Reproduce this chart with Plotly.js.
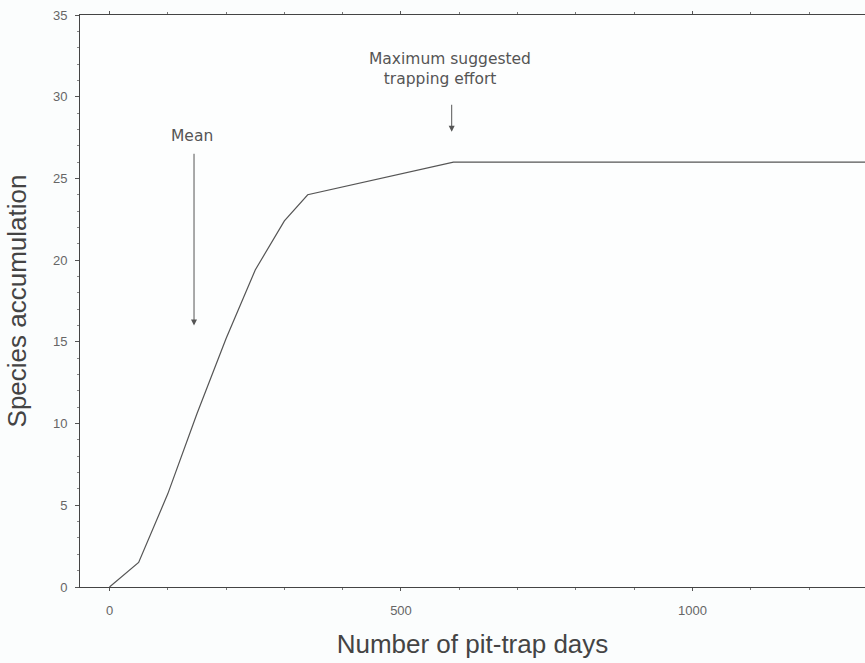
<!DOCTYPE html>
<html>
<head>
<meta charset="utf-8">
<script src="https://cdn.plot.ly/plotly-3.0.1.min.js"></script>
<style>html,body{margin:0;padding:0;background:#fbfdfd;}#chart{width:865px;height:663px;}</style>
</head>
<body>
<div id="chart"></div>
<script>
// Data
const trapDays = [0, 50, 100, 150, 200, 250, 300, 340, 590, 1320];
const speciesAcc = [0, 1.5, 5.7, 10.6, 15.2, 19.4, 22.4, 24.0, 26.0, 26.0];
const xTickVals = [0, 500, 1000];
const yTickVals = [0, 5, 10, 15, 20, 25, 30, 35];

const labelFont = {family: 'DejaVu Sans, Verdana, sans-serif', size: 15.5, color: '#555'};

const trace = {
  x: trapDays, y: speciesAcc, type: 'scatter', mode: 'lines',
  line: {color: '#555', width: 1.2}, hoverinfo: 'skip', showlegend: false
};

const layout = {
  width: 865, height: 663,
  paper_bgcolor: '#fbfdfd', plot_bgcolor: '#fdfefe',
  margin: {l: 80, r: 0, t: 15, b: 76},
  xaxis: {
    range: [-50.6, 1296], tickvals: xTickVals, ticks: 'outside', ticklen: 3, tickcolor: '#555',
    ticklabelstandoff: 8,
    showline: true, linecolor: '#444', linewidth: 1, mirror: 'ticks', zeroline: false, showgrid: false,
    minor: {dtick: 100, tick0: 0, ticks: 'outside', ticklen: 2, tickcolor: '#777', showgrid: false},
    tickfont: {family: 'Liberation Sans, Arial, sans-serif', size: 13, color: '#666'},
    title: {text: 'Number of pit-trap days', font: {family: 'Liberation Sans, Arial, sans-serif', size: 26, color: '#444'}, standoff: 18}
  },
  yaxis: {
    range: [0, 35], tickvals: yTickVals, ticks: 'outside', ticklen: 4, tickcolor: '#555',
    ticklabelstandoff: 5,
    showline: true, linecolor: '#444', linewidth: 1, zeroline: false, showgrid: false,
    minor: {dtick: 1, tick0: 0, ticks: 'outside', ticklen: 2, tickcolor: '#888', showgrid: false},
    tickfont: {family: 'Liberation Sans, Arial, sans-serif', size: 13, color: '#666'},
    title: {text: 'Species accumulation', font: {family: 'Liberation Sans, Arial, sans-serif', size: 26, color: '#444'}, standoff: 18}
  },
  annotations: [
    {x: 145, y: 16.0, ax: 145, ay: 26.6, axref: 'x', ayref: 'y', xref: 'x', yref: 'y',
     showarrow: true, arrowhead: 2, arrowsize: 1.2, arrowwidth: 1, arrowcolor: '#555', text: ''},
    {x: 142, y: 27.6, xref: 'x', yref: 'y', text: 'Mean', showarrow: false, font: labelFont},
    {x: 587, y: 27.85, ax: 587, ay: 29.6, axref: 'x', ayref: 'y', xref: 'x', yref: 'y',
     showarrow: true, arrowhead: 2, arrowsize: 1.2, arrowwidth: 1, arrowcolor: '#555', text: ''},
    {x: 442, y: 31.7, xref: 'x', yref: 'y', xanchor: 'left', align: 'left',
     text: 'Maximum suggested<br>&nbsp;&nbsp;&nbsp;trapping effort', showarrow: false, font: labelFont}
  ]
};

Plotly.newPlot('chart', [trace], layout, {displayModeBar: false, staticPlot: true});
</script>
</body>
</html>
